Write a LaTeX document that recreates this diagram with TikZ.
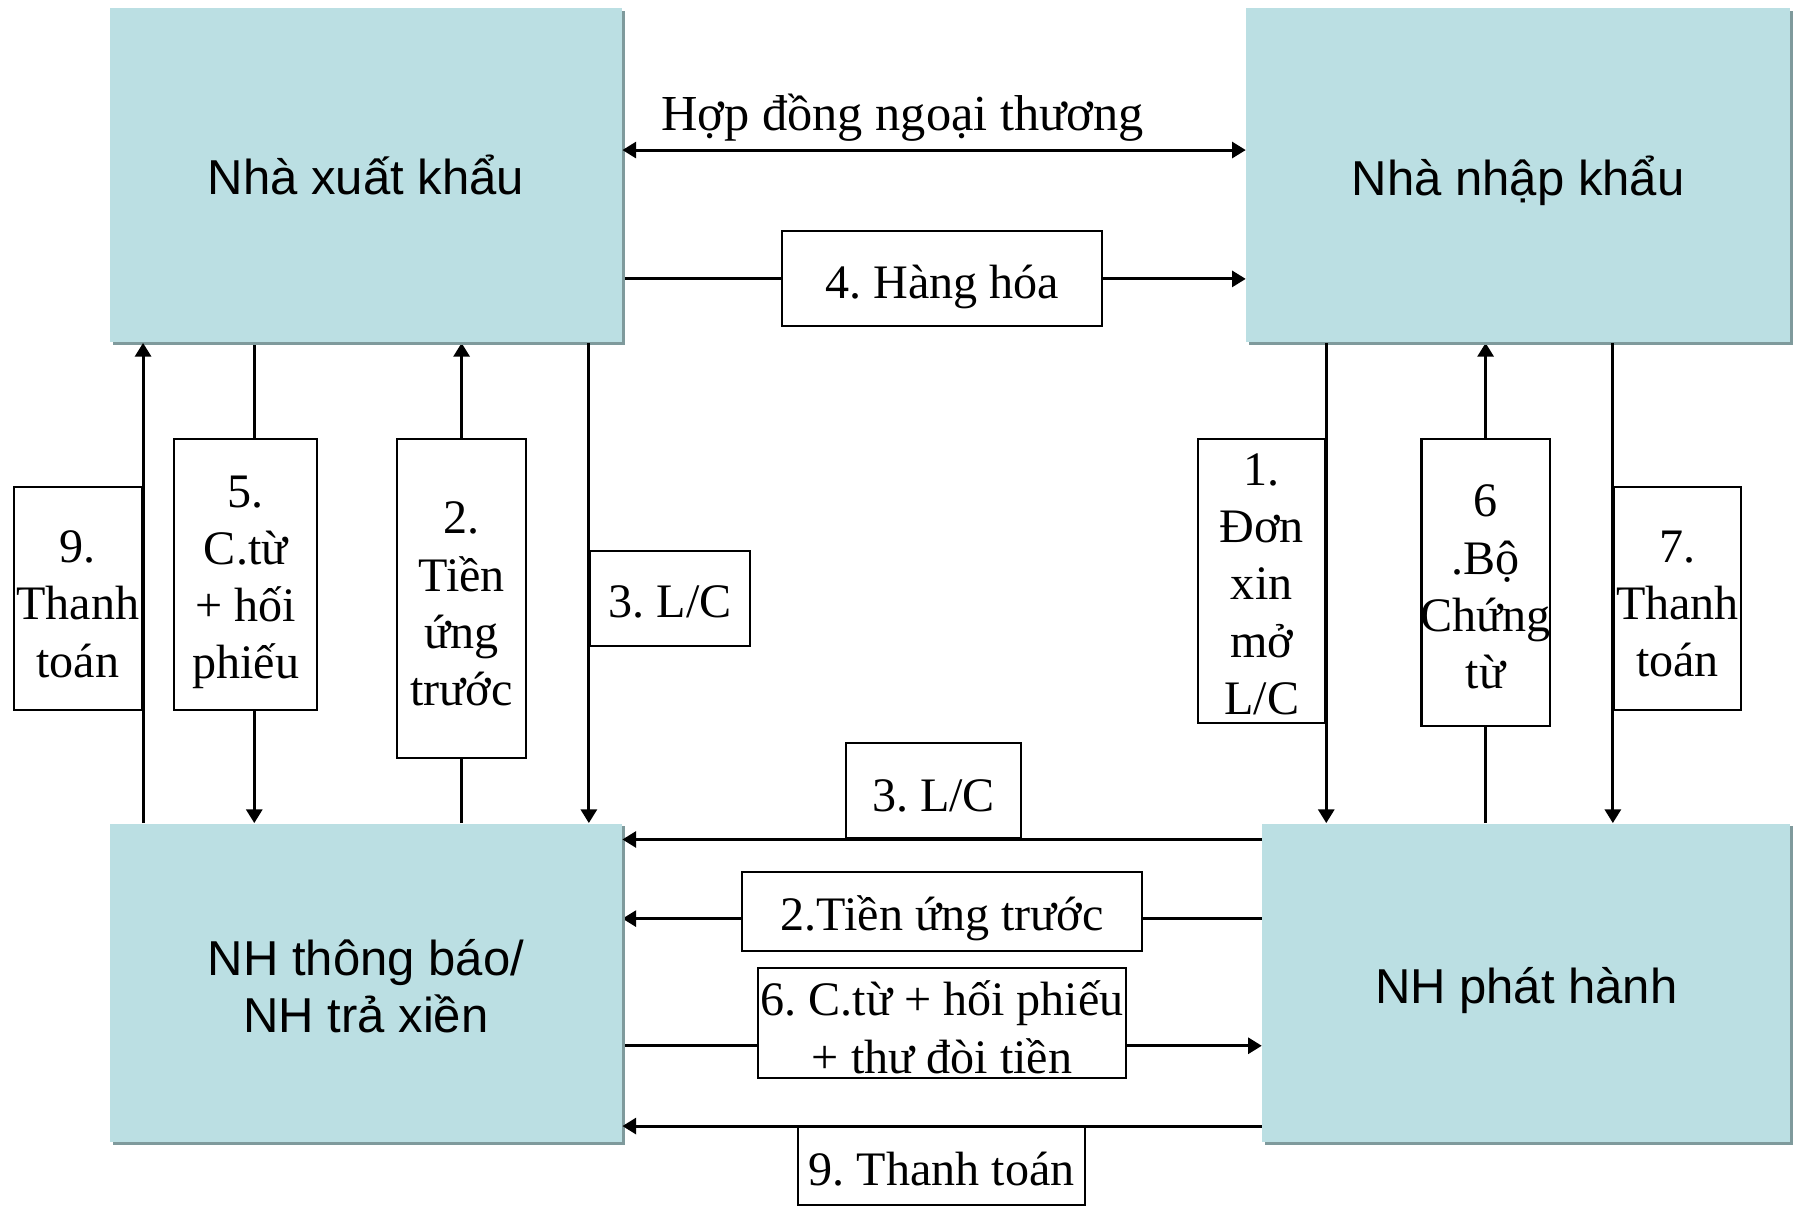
\documentclass[tikz,border=0pt]{standalone}
\usepackage{fontspec}
\setmainfont{Liberation Serif}
\setsansfont{Liberation Sans}
\usetikzlibrary{arrows.meta,shadows,backgrounds}
\definecolor{boxteal}{HTML}{BBDFE3}
\definecolor{shadowgray}{HTML}{7F9A9C}
\frenchspacing
\begin{document}
\begin{tikzpicture}[x=0.5pt,y=-0.5pt,
  >={Triangle[length=6pt,width=7pt]},
  partytxt/.style={inner sep=0pt, align=center, font=\sffamily\fontsize{21.4}{25}\selectfont},
  lbltxt/.style={inner sep=0pt, align=center, font=\fontsize{21}{25}\selectfont},
  party/.style n args={2}{rectangle, fill=boxteal, inner sep=0pt,
    general shadow={fill=shadowgray, shadow xshift=1.2pt, shadow yshift=-1.2pt},
    label={[partytxt, yshift=-#1]center:{#2}}},
  lbl/.style n args={2}{rectangle, draw=black, line width=0.9pt, fill=white, inner sep=0pt,
    label={[lbltxt, yshift=-#1]center:{#2}}},
  flow/.style={line width=1.3pt}
  ]
\useasboundingbox (0,0) rectangle (1568,1054);

% parties
\node[party={0pt}{Nhà xuất khẩu}, minimum width=223.5pt, minimum height=146pt] (exp) at (319.5,153) {};
\node[party={2.5pt}{Nhà nhập khẩu}, minimum width=237.5pt, minimum height=146pt] (imp) at (1325.5,153) {};
\node[party={1.5pt}{NH thông báo/\\NH trả xiền}, minimum width=223.5pt, minimum height=139pt] (adv) at (319.5,858) {};
\node[party={3.5pt}{NH phát hành}, minimum width=230.5pt, minimum height=139pt] (iss) at (1332.5,858) {};

% labels
\node[lbl={2.5pt}{9.\\Thanh\\toán}, minimum width=56pt, minimum height=97.5pt] (l9v) at (68,522.5) {};
\node[lbl={3.5pt}{5.\\C.từ\\+ hối\\phiếu}, minimum width=62.5pt, minimum height=118.5pt] (l5v) at (214.5,501.5) {};
\node[lbl={2.5pt}{2.\\Tiền\\ứng\\trước}, minimum width=56pt, minimum height=139.5pt] (l2v) at (403,522.5) {};
\node[lbl={1.5pt}{3. L/C}, minimum width=70pt, minimum height=41.5pt] (l3v) at (585,522.5) {};
\node[lbl={1.5pt}{1.\\Đơn\\xin\\mở\\L/C}, minimum width=55.5pt, minimum height=124pt] (l1v) at (1101.5,507) {};
\node[lbl={2pt}{6\\.Bộ\\Chứng\\từ}, minimum width=56pt, minimum height=125.5pt] (l6v) at (1297,508.5) {};
\node[lbl={2.5pt}{7.\\Thanh\\toán}, minimum width=55.5pt, minimum height=97.5pt] (l7v) at (1464.5,522.5) {};
\node[lbl={3.5pt}{4. Hàng hóa}, minimum width=139.5pt, minimum height=41.5pt] (l4h) at (822.5,243.5) {};
\node[lbl={2pt}{3. L/C}, minimum width=76pt, minimum height=41.5pt] (l3h) at (815,690.5) {};
\node[lbl={3pt}{2.Tiền ứng trước}, minimum width=174.5pt, minimum height=34.5pt] (l2h) at (822.5,795.5) {};
\node[lbl={2pt}{6. C.từ + hối phiếu\\+ thư đòi tiền}, minimum width=160.5pt, minimum height=48pt] (l6h) at (822.5,893) {};
\node[lbl={1.5pt}{9. Thanh toán}, minimum width=125pt, minimum height=34pt] (l9h) at (822,1018) {};
\node[font=\fontsize{22}{25}\selectfont, anchor=base, inner sep=0pt] (contract) at (788,114) {Hợp đồng ngoại thương};

% helper coordinates
\coordinate (yC) at (0,131);
\coordinate (y2) at (0,802);
\coordinate (y6) at (0,913);
\coordinate (x5) at (222,0);

% connectors passing behind label boxes
\begin{scope}[on background layer]
\draw[flow,->] (exp.east |- l4h) -- (imp.west |- l4h);
\draw[flow,->] (exp.south -| x5) -- (adv.north -| x5);
\draw[flow,->] (adv.north -| l2v) -- (exp.south -| l2v);
\draw[flow,->] (iss.north -| l6v) -- (imp.south -| l6v);
\draw[flow,->] (iss.west |- y2) -- (adv.east |- y2);
\draw[flow,->] (adv.east |- y6) -- (iss.west |- y6);
\end{scope}

% connectors along label box edges
\draw[flow,<->] (exp.east |- yC) -- (imp.west |- yC);
\draw[flow,->] (adv.north -| l9v.east) -- (exp.south -| l9v.east);
\draw[flow,->] (exp.south -| l3v.west) -- (adv.north -| l3v.west);
\draw[flow,->] (imp.south -| l1v.east) -- (iss.north -| l1v.east);
\draw[flow,->] (imp.south -| l7v.west) -- (iss.north -| l7v.west);
\draw[flow,->] (iss.west |- l3h.south) -- (adv.east |- l3h.south);
\draw[flow,->] (iss.west |- l9h.north) -- (adv.east |- l9h.north);
\end{tikzpicture}
\end{document}
